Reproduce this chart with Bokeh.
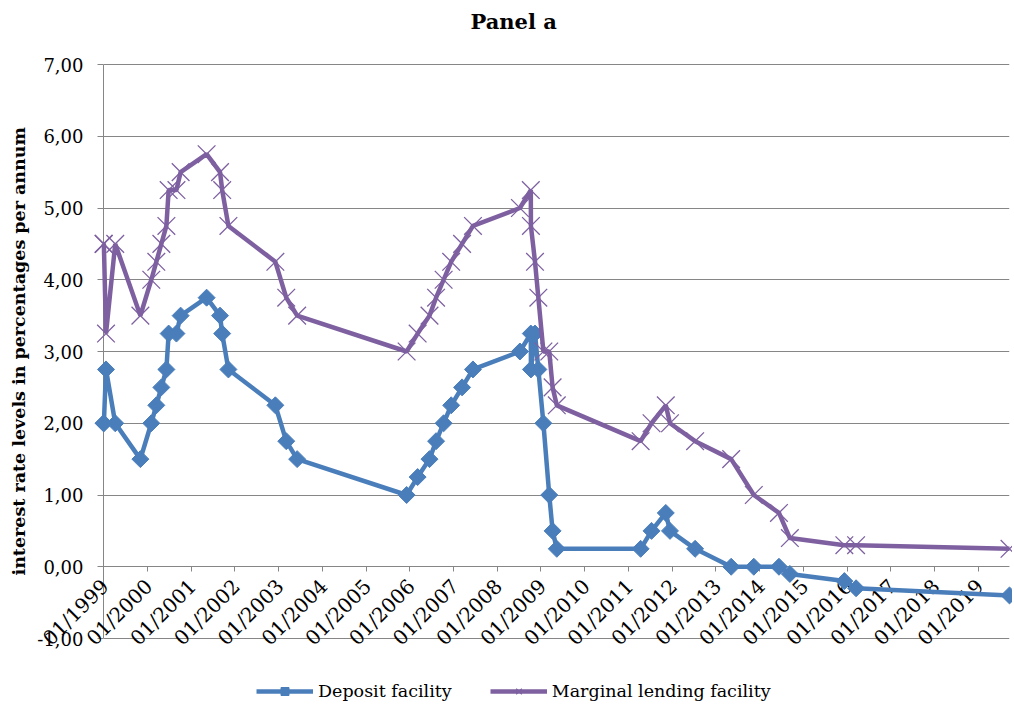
from datetime import datetime
from math import pi

from bokeh.plotting import figure
from bokeh.models import (Range1d, FixedTicker, CustomJSTickFormatter,
                          Legend, LegendItem, Title)
from bokeh.core.properties import value
from bokeh.embed import file_html
from bokeh.resources import INLINE

# ---------------- data ----------------
dates = [
    "1999-01-01", "1999-01-04", "1999-01-22", "1999-04-09", "1999-11-05",
    "2000-02-04", "2000-03-17", "2000-04-28", "2000-06-09", "2000-06-28",
    "2000-09-01", "2000-10-06", "2001-05-11", "2001-08-31", "2001-09-18",
    "2001-11-09", "2002-12-06", "2003-03-07", "2003-06-06", "2005-12-06",
    "2006-03-08", "2006-06-15", "2006-08-09", "2006-10-11", "2006-12-13",
    "2007-03-14", "2007-06-13", "2008-07-09", "2008-10-08", "2008-10-09",
    "2008-11-12", "2008-12-10", "2009-01-21", "2009-03-11", "2009-04-08",
    "2009-05-13", "2011-04-13", "2011-07-13", "2011-11-09", "2011-12-14",
    "2012-07-11", "2013-05-08", "2013-11-13", "2014-06-11", "2014-09-10",
    "2015-12-09", "2016-03-16", "2019-09-18",
]
deposit = [
    2.00, 2.00, 2.75, 2.00, 1.50,
    2.00, 2.25, 2.50, 2.75, 3.25,
    3.25, 3.50, 3.75, 3.50, 3.25,
    2.75, 2.25, 1.75, 1.50, 1.00,
    1.25, 1.50, 1.75, 2.00, 2.25,
    2.50, 2.75, 3.00, 3.25, 2.75,
    3.25, 2.75, 2.00, 1.00, 0.50,
    0.25, 0.25, 0.50, 0.75, 0.50,
    0.25, 0.00, 0.00, 0.00, -0.10,
    -0.20, -0.30, -0.40,
]
lending = [
    4.50, 4.50, 3.25, 4.50, 3.50,
    4.00, 4.25, 4.50, 4.75, 5.25,
    5.25, 5.50, 5.75, 5.50, 5.25,
    4.75, 4.25, 3.75, 3.50, 3.00,
    3.25, 3.50, 3.75, 4.00, 4.25,
    4.50, 4.75, 5.00, 5.25, 4.75,
    4.25, 3.75, 3.00, 3.00, 2.50,
    2.25, 1.75, 2.00, 2.25, 2.00,
    1.75, 1.50, 1.00, 0.75, 0.40,
    0.30, 0.30, 0.25,
]
tick_years = list(range(1999, 2020))
tick_labels = ["01/%d" % y for y in tick_years]
y_ticks = [-1, 0, 1, 2, 3, 4, 5, 6, 7]
series_names = ["Deposit facility", "Marginal lending facility"]
title_text = "Panel a"
y_title = "interest rate levels in percentages per annum"

# ---------------- styling / layout ----------------
BLUE = "#4a7ebb"
PURPLE = "#7e60a1"
GRID = "#868686"
FONT = "DejaVu Serif"

W, H = 1012, 703
TOP, LEFT, RIGHT = 33, 103, 3        # frame borders (px)
AX_TOP, AX_BOTTOM = 64, 638          # pixel rows of 7,00 and -1,00
px_per_unit = (AX_BOTTOM - AX_TOP) / (y_ticks[-1] - y_ticks[0])
y_hi = y_ticks[-1] + (AX_TOP - TOP) / px_per_unit
y_lo = y_ticks[0] - (H - AX_BOTTOM) / px_per_unit

x = [datetime.strptime(d, "%Y-%m-%d") for d in dates]
tick_dates = [datetime(y, 1, 1) for y in tick_years]
epoch = datetime(1970, 1, 1)
x_ticks = [(d - epoch).total_seconds() * 1000.0 for d in tick_dates]

p = figure(width=W, height=H, x_axis_type="datetime",
           output_backend="svg", toolbar_location=None,
           x_range=Range1d(x[0], x[-1]), y_range=Range1d(y_lo, y_hi),
           min_border_left=LEFT, min_border_right=RIGHT,
           min_border_top=TOP, min_border_bottom=0)

p.outline_line_color = None
p.background_fill_color = "white"
p.border_fill_color = "white"

xax = p.below[0]
yax = p.left[0]

# title (its panel sits right on top of the frame)
p.title = Title(text=title_text, text_font=FONT, text_font_style="bold",
                text_font_size="21px", align="left", offset=367, standoff=0,
                text_color="#000000")

# grids
p.xgrid.visible = False
p.ygrid.ticker = FixedTicker(ticks=y_ticks)
p.ygrid.grid_line_color = GRID
p.ygrid.grid_line_width = 1

# y axis
yax.bounds = (y_ticks[0], y_ticks[-1])
yax.ticker = FixedTicker(ticks=y_ticks)
yax.formatter = CustomJSTickFormatter(code="return tick.toFixed(2).replace('.', ',');")
yax.axis_line_color = GRID
yax.major_tick_line_color = GRID
yax.major_tick_out = 6
yax.major_tick_in = 0
yax.minor_tick_line_color = None
yax.major_label_text_font = FONT
yax.major_label_text_font_size = "18px"
yax.major_label_text_color = "#000000"
yax.major_label_standoff = 14

# y axis title, placed in the left panel beside the axis
ytitle = Title(text=y_title, text_font=FONT, text_font_style="bold",
               text_font_size="17.5px", align="left", offset=128,
               standoff=12, text_color="#000000")
p.add_layout(ytitle, "left")

# x axis placed at y = 0 (line + ticks); labels drawn below as rotated text
xax.fixed_location = 0
xax.ticker = FixedTicker(ticks=x_ticks)
xax.formatter = CustomJSTickFormatter(code="return '';")
xax.axis_line_color = GRID
xax.major_tick_line_color = GRID
xax.major_tick_out = 5
xax.major_tick_in = 0
xax.minor_tick_line_color = None

p.text(x=tick_dates, y=[0] * len(tick_dates), text=tick_labels,
       angle=pi / 4, text_align="right", text_baseline="middle",
       x_offset=1.5, y_offset=16,
       text_font=value(FONT), text_font_size="20px", text_color="#000000",
       level="overlay")

# series
dl = p.line(x, deposit, line_color=BLUE, line_width=4.5, level="overlay")
dm = p.scatter(x, deposit, marker="square", angle=pi / 4, size=12,
               fill_color=BLUE, line_color=BLUE, level="overlay")
ll = p.line(x, lending, line_color=PURPLE, line_width=4.5, level="overlay")
lm = p.scatter(x, lending, marker="x", size=25, line_color=PURPLE,
               line_width=1.3, level="overlay")

legend = Legend(
    items=[LegendItem(label=series_names[0], renderers=[dl, dm]),
           LegendItem(label=series_names[1], renderers=[ll, lm])],
    orientation="horizontal", location=(153, 2),
    glyph_width=57, glyph_height=20, label_standoff=5, spacing=38,
    padding=0, margin=0, border_line_color=None, background_fill_alpha=0,
    label_text_font=FONT, label_text_font_size="17.5px",
    label_text_color="#000000")
p.add_layout(legend)

open("out.html", "w").write(file_html(p, INLINE))
